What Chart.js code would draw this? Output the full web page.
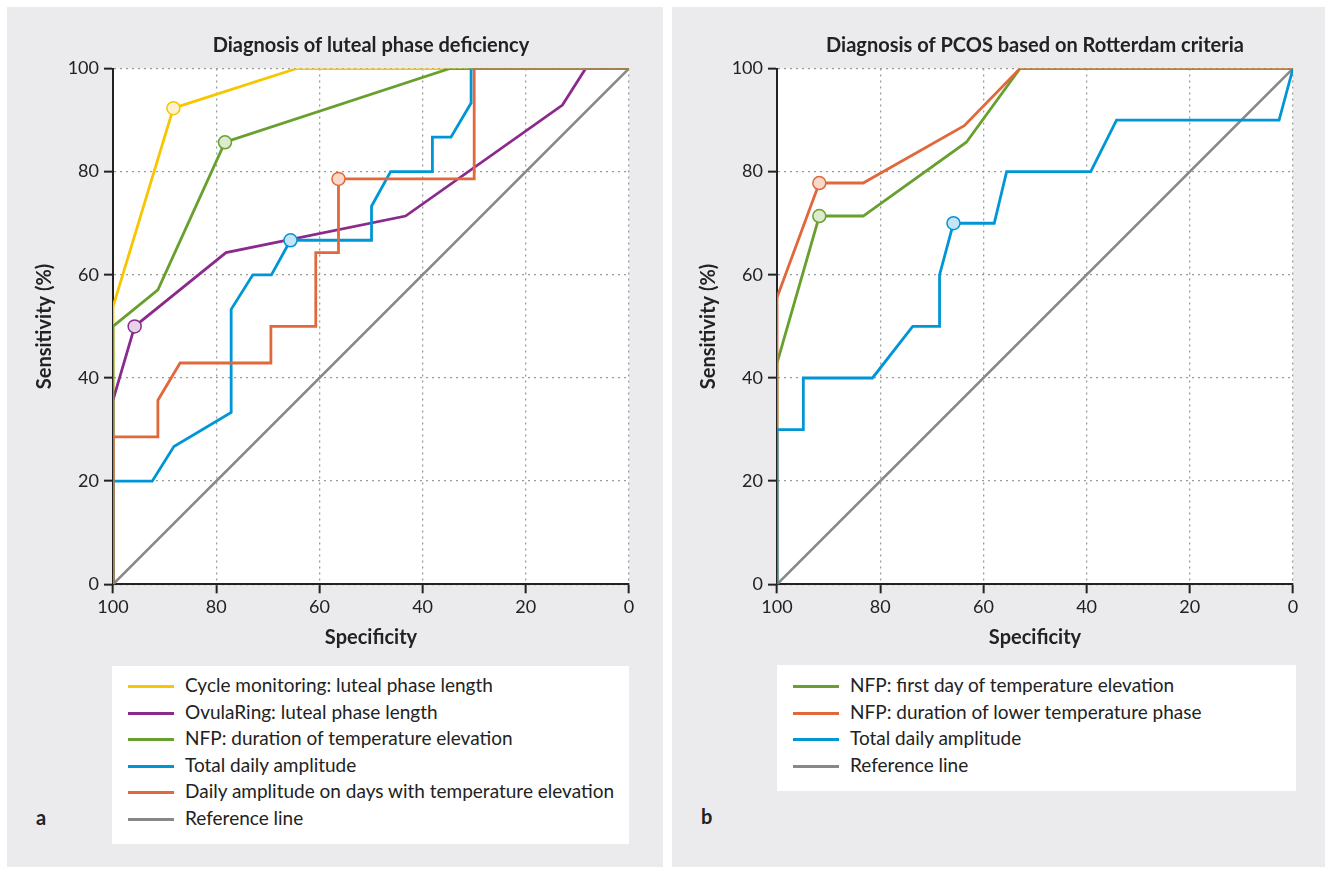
<!DOCTYPE html>
<html>
<head>
<meta charset="utf-8">
<script src="https://cdn.jsdelivr.net/npm/chart.js@4.4.1/dist/chart.umd.min.js"></script>
<style>
  html, body { margin: 0; padding: 0; background: #ffffff; }
  body { width: 1330px; height: 869px; position: relative; overflow: hidden; font-family: Lato, "Open Sans", sans-serif; color: #222; }
  .panel { position: absolute; background: #ebebed; top: 7px; height: 860px; }
  canvas { position: absolute; top: 0; }
  .legend { position: absolute; background: #ffffff; }
  .item { position: absolute; left: 0; height: 26px; font-size: 19px; line-height: 26px; white-space: nowrap; color: #222; }
  .swatch { position: absolute; top: 12px; height: 3px; width: 46px; }
  .lbl { position: absolute; top: -1px; }
  .tag { position: absolute; font-weight: bold; font-size: 20px; color: #222; }
</style>
</head>
<body>
<div class="panel" style="left:7px;width:656px;"></div>
<div class="panel" style="left:672px;width:653px;"></div>
<canvas id="chartA" width="665" height="660" style="left:0px;"></canvas>
<canvas id="chartB" width="665" height="660" style="left:664px;"></canvas>
<div class="legend" id="legendA" style="left:112px;top:666px;width:517px;height:178px;"></div>
<div class="legend" id="legendB" style="left:777px;top:665px;width:519px;height:126px;"></div>
<div class="tag" style="left:36px;top:805px;">a</div>
<div class="tag" style="left:701px;top:804px;">b</div>
<script>
// ---------- Panel a: Diagnosis of luteal phase deficiency ----------
const titleA = "Diagnosis of luteal phase deficiency";
const cycleSpec = [100, 100, 88.3, 64.4, 0];
const cycleSens = [0, 53.8, 92.3, 100, 100];
const cycleMarker = 2;

const ovulaSpec = [100, 100, 95.8, 78.1, 43.3, 12.9, 8.4, 0];
const ovulaSens = [0, 35.7, 50, 64.3, 71.4, 92.9, 100, 100];
const ovulaMarker = 2;

const nfpDurSpec = [100, 100, 91.3, 78.3, 34.7, 0];
const nfpDurSens = [0, 50, 57.1, 85.7, 100, 100];
const nfpDurMarker = 3;

const totalASpec = [100, 100, 92.4, 88.2, 77.1, 77.1, 72.9, 69.3, 65.6, 49.9, 49.9, 46.2, 38.1, 38.1, 34.5, 30.6, 30.6, 0];
const totalASens = [0, 20, 20, 26.7, 33.3, 53.3, 60, 60, 66.7, 66.7, 73.3, 80, 80, 86.7, 86.7, 93.3, 100, 100];
const totalAMarker = 8;

const dailyTSpec = [100, 100, 91.3, 91.3, 87, 69.4, 69.4, 60.7, 60.7, 56.3, 56.3, 30, 30, 0];
const dailyTSens = [0, 28.6, 28.6, 35.7, 42.9, 42.9, 50, 50, 64.3, 64.3, 78.6, 78.6, 100, 100];
const dailyTMarker = 10;

const refSpec = [100, 0];
const refSens = [0, 100];

// ---------- Panel b: Diagnosis of PCOS based on Rotterdam criteria ----------
const titleB = "Diagnosis of PCOS based on Rotterdam criteria";
const firstDaySpec = [100, 100, 91.8, 83.3, 63.3, 52.9, 0];
const firstDaySens = [0, 42.9, 71.4, 71.4, 85.7, 100, 100];
const firstDayMarker = 2;

const lowerPhaseSpec = [100, 100, 91.8, 83.3, 63.7, 52.9, 0];
const lowerPhaseSens = [0, 55.6, 77.8, 77.8, 88.9, 100, 100];
const lowerPhaseMarker = 2;

const totalBSpec = [100, 100, 94.9, 94.9, 81.5, 73.7, 68.5, 68.5, 65.8, 57.9, 55.5, 39.2, 34.2, 2.7, 0];
const totalBSens = [0, 30, 30, 40, 40, 50, 50, 60, 70, 70, 80, 80, 90, 90, 100];
const totalBMarker = 8;

const xTicks = [100, 80, 60, 40, 20, 0];
const yTicks = [0, 20, 40, 60, 80, 100];
const xTitle = "Specificity";
const yTitle = "Sensitivity (%)";

// ---------- styling ----------
const COL = {
  yellow: ["#f7c600", "#fdf2cf"],
  purple: ["#8b2a8c", "#e6d3e7"],
  green:  ["#67a02e", "#dcebcd"],
  blue:   ["#0096d6", "#c7e3f6"],
  orange: ["#e0683b", "#f8d9ca"],
  grey:   ["#888888", "#888888"]
};
const FONT = "Lato, 'Open Sans', sans-serif";

function zip(xs, ys) { return xs.map((x, i) => ({ x: x, y: ys[i] })); }

function ds(label, xs, ys, col, marker, order) {
  return {
    label: label,
    data: zip(xs, ys),
    borderColor: col[0],
    backgroundColor: col[0],
    borderWidth: col === COL.grey ? 2.6 : 2.8,
    tension: 0,
    fill: false,
    order: order,
    pointRadius: c => (c.dataIndex === marker ? 6.5 : 0),
    pointHoverRadius: c => (c.dataIndex === marker ? 6.5 : 0),
    pointBackgroundColor: col[1],
    pointBorderColor: col[0],
    pointBorderWidth: 1.5
  };
}

const plotBg = {
  id: 'plotBg',
  beforeDraw(chart) {
    const a = chart.chartArea, ctx = chart.ctx;
    ctx.save();
    ctx.fillStyle = '#ffffff';
    ctx.fillRect(a.left, a.top, a.right - a.left, a.bottom - a.top);
    ctx.restore();
  }
};

function makeOptions(title) {
  const tickFont = { family: FONT, size: 18 };
  const gridCfg = { color: '#9a9a9a', lineWidth: 1.3, tickColor: '#222', tickLength: 9, tickWidth: 2 };
  const borderCfg = { color: '#222', width: 2, dash: [2, 4] };
  const boldFont = { family: FONT, size: 20, weight: 'bold' };
  return {
    responsive: false,
    animation: false,
    devicePixelRatio: 1,
    layout: { padding: { left: 0, right: 36, top: 0, bottom: 0 } },
    plugins: {
      legend: { display: false },
      tooltip: { enabled: false },
      title: {
        display: true, text: title, fullSize: false, color: '#222',
        font: boldFont,
        padding: { top: 34, bottom: 10.5 }
      }
    },
    scales: {
      x: {
        type: 'linear', min: 0, max: 100, reverse: true,
        afterBuildTicks: s => { s.ticks = xTicks.map(v => ({ value: v })); },
        afterFit: s => { s.height = 75.7; },
        ticks: { font: tickFont, color: '#222', padding: 3, maxRotation: 0 },
        grid: gridCfg, border: borderCfg,
        title: { display: true, text: xTitle, color: '#222', font: boldFont, padding: { top: 0, bottom: 10 } }
      },
      y: {
        type: 'linear', min: 0, max: 100,
        afterBuildTicks: s => { s.ticks = yTicks.map(v => ({ value: v })); },
        afterFit: s => { s.width = 113; },
        ticks: { font: tickFont, color: '#222', padding: 5 },
        grid: gridCfg, border: borderCfg,
        title: { display: true, text: yTitle, color: '#222', font: boldFont, padding: { top: 33, bottom: 0 } }
      }
    }
  };
}

const dsA = [
  ds("Cycle monitoring: luteal phase length", cycleSpec, cycleSens, COL.yellow, cycleMarker, 4),
  ds("OvulaRing: luteal phase length", ovulaSpec, ovulaSens, COL.purple, ovulaMarker, 3),
  ds("NFP: duration of temperature elevation", nfpDurSpec, nfpDurSens, COL.green, nfpDurMarker, 1),
  ds("Total daily amplitude", totalASpec, totalASens, COL.blue, totalAMarker, 2),
  ds("Daily amplitude on days with temperature elevation", dailyTSpec, dailyTSens, COL.orange, dailyTMarker, 0),
  ds("Reference line", refSpec, refSens, COL.grey, -1, 5)
];
const dsB = [
  ds("NFP: first day of temperature elevation", firstDaySpec, firstDaySens, COL.green, firstDayMarker, 2),
  ds("NFP: duration of lower temperature phase", lowerPhaseSpec, lowerPhaseSens, COL.orange, lowerPhaseMarker, 1),
  ds("Total daily amplitude", totalBSpec, totalBSens, COL.blue, totalBMarker, 0),
  ds("Reference line", refSpec, refSens, COL.grey, -1, 3)
];

const chartA = new Chart(document.getElementById('chartA'), {
  type: 'line', data: { datasets: dsA }, options: makeOptions(titleA), plugins: [plotBg]
});
const chartB = new Chart(document.getElementById('chartB'), {
  type: 'line', data: { datasets: dsB }, options: makeOptions(titleB), plugins: [plotBg]
});

function buildLegend(el, datasets, swLeft, txtLeft, firstTop) {
  datasets.forEach((d, i) => {
    const it = document.createElement('div');
    it.className = 'item';
    it.style.top = (firstTop + i * 26.6) + 'px';
    it.style.width = '100%';
    const sw = document.createElement('div');
    sw.className = 'swatch';
    sw.style.left = swLeft + 'px';
    sw.style.background = d.borderColor;
    const tx = document.createElement('div');
    tx.className = 'lbl';
    tx.style.left = txtLeft + 'px';
    tx.textContent = d.label;
    it.appendChild(sw); it.appendChild(tx);
    el.appendChild(it);
  });
}
buildLegend(document.getElementById('legendA'), dsA, 16, 73, 7);
buildLegend(document.getElementById('legendB'), dsB, 16, 73, 8);
</script>
</body>
</html>
